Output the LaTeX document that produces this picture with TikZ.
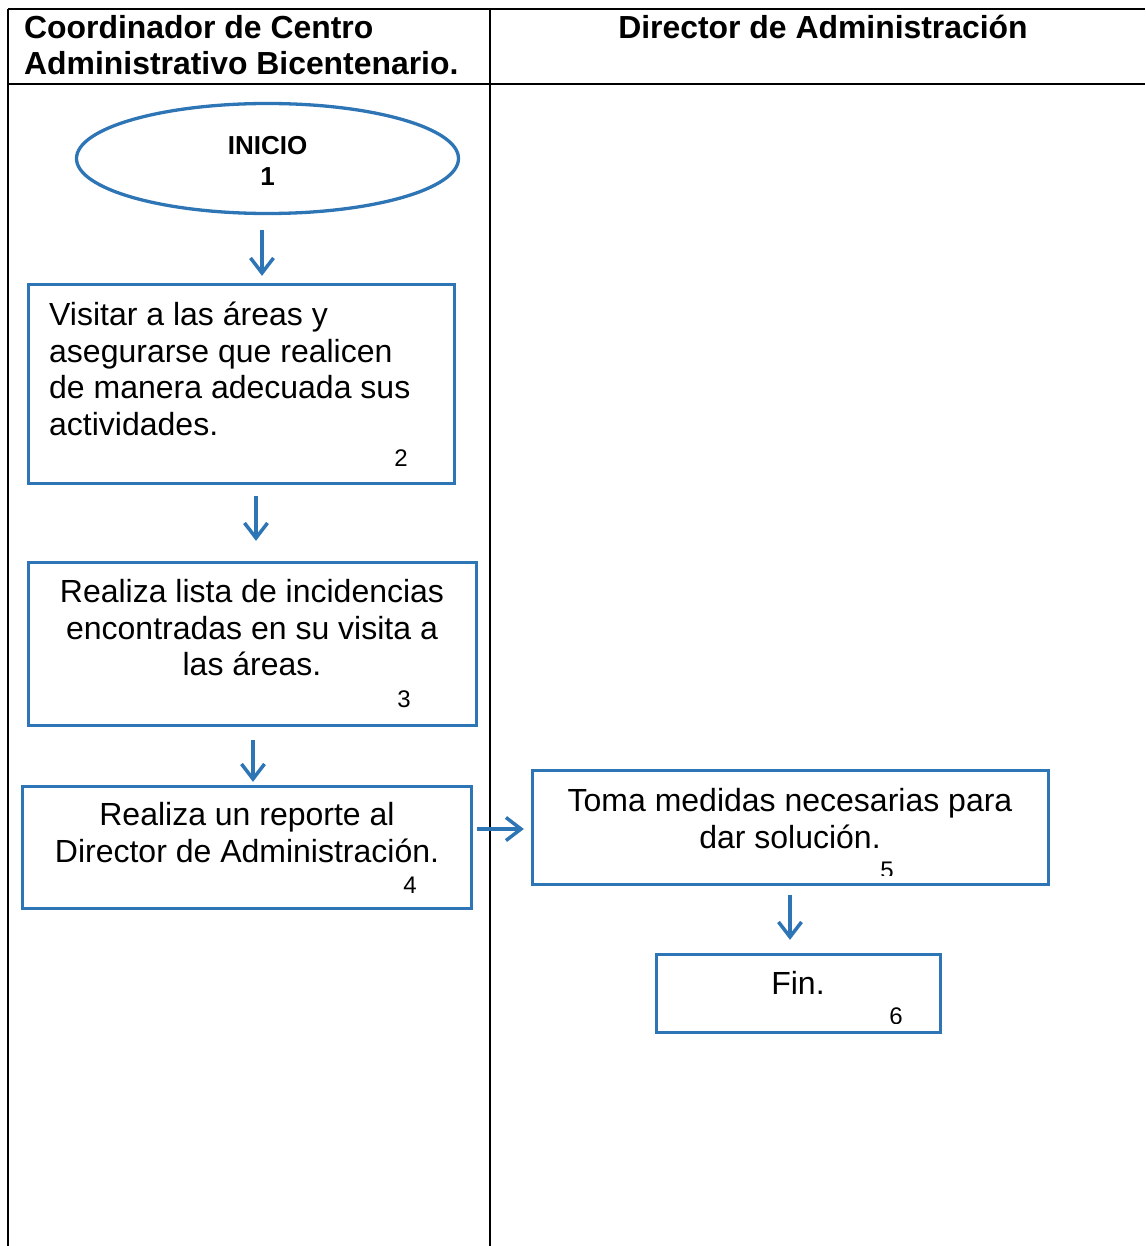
\documentclass[tikz,border=0pt]{standalone}
\usepackage{fontspec}
\setmainfont{Liberation Sans}
\usetikzlibrary{arrows.meta,shapes.geometric,calc}
\definecolor{flowblue}{RGB}{46,117,182}
\begin{document}
\begin{tikzpicture}[x=1pt,y=-1pt,
  lane/.style={line width=2pt, draw=black},
  box/.style={draw=flowblue, line width=3.3pt, rectangle, inner sep=0pt},
  flow/.style={draw=flowblue, line width=3.5pt, -{Straight Barb[length=15pt,width=23pt,line width=3.5pt]}},
  body/.style={font=\fontsize{32}{36.5}\selectfont, inner sep=0pt},
  num/.style={font=\fontsize{24}{28}\selectfont, inner sep=0pt, anchor=base},
  head/.style={font=\bfseries\fontsize{31.9}{36}\selectfont, inner sep=0pt}]
\useasboundingbox (0,0) rectangle (1145,1246);

% swimlane table (multi-line nodes are placed by the baseline of their last line)
\draw[lane] (8,9) -- (1145,9);
\draw[lane] (8,84) -- (1145,84);
\draw[lane] (8,9) -- (8,1246);
\draw[lane] (490,9) -- (490,1246);

\node[head, anchor=base west, align=left] (h1) at (24,75)
  {Coordinador de Centro\\Administrativo Bicentenario.};
\node[head, anchor=base] (h2) at (823,39) {Director de Administración};

% shapes
\node[ellipse, draw=flowblue, line width=3.3pt, inner sep=0pt,
      minimum width=382, minimum height=110] (e) at (267.5,158.5) {};
\node[font=\bfseries\fontsize{26}{31}\selectfont, inner sep=0pt, anchor=base, align=center]
  (t1) at (267.5,186) {INICIO\\1};

\node[box, minimum width=426, minimum height=199] (b2) at (241.5,384) {};
\node[body, anchor=base west, align=left] (t2) at (49,435)
  {Visitar a las áreas y\\asegurarse que realicen\\de manera adecuada sus\\actividades.};
\node[num] (n2) at (401,466.5) {2};

\node[box, minimum width=448, minimum height=163] (b3) at (252.5,644) {};
\node[body, anchor=base, align=center] (t3) at (252,675.5)
  {Realiza lista de incidencias\\encontradas en su visita a\\las áreas.};
\node[num] (n3) at (404,707.5) {3};

\node[box, minimum width=449, minimum height=122] (b4) at (247,847.5) {};
\node[body, anchor=base, align=center] (t4) at (247,862)
  {Realiza un reporte al\\Director de Administración.};
\node[num] (n4) at (410,893.5) {4};

\node[box, minimum width=516, minimum height=114] (b5) at (790.5,827.5) {};
\node[body, anchor=base, align=center] (t5) at (790,848)
  {Toma medidas necesarias para\\dar solución.};
\begin{scope}
  \clip (600,840) rectangle (1000,875);
  \node[num] (n5) at (887,878) {5};
\end{scope}

\node[box, minimum width=284, minimum height=78] (b6) at (798.5,993.5) {};
\node[body, anchor=base] (t6) at (798,994) {Fin.};
\begin{scope}
  \clip (700,990) rectangle (930,1023);
  \node[num] (n6) at (896,1024) {6};
\end{scope}

% connectors
\draw[flow] ($(e.south)+(-5.5,15)$) -- ($(b2.north)+(20.5,-7)$);
\draw[flow] ($(b2.south)+(14.5,10.5)$) -- ($(b3.north)+(3.5,-20)$);
\draw[flow] ($(b3.south)+(0.5,12.5)$) -- ($(b4.north)+(6,-3)$);
\draw[flow] ($(b4.east)+(3.5,-18.5)$) -- ($(b5.west)+(-7,1.5)$);
\draw[flow] ($(b5.south)+(-0.5,8.5)$) -- ($(b6.north)+(-8.5,-13)$);
\end{tikzpicture}
\end{document}
